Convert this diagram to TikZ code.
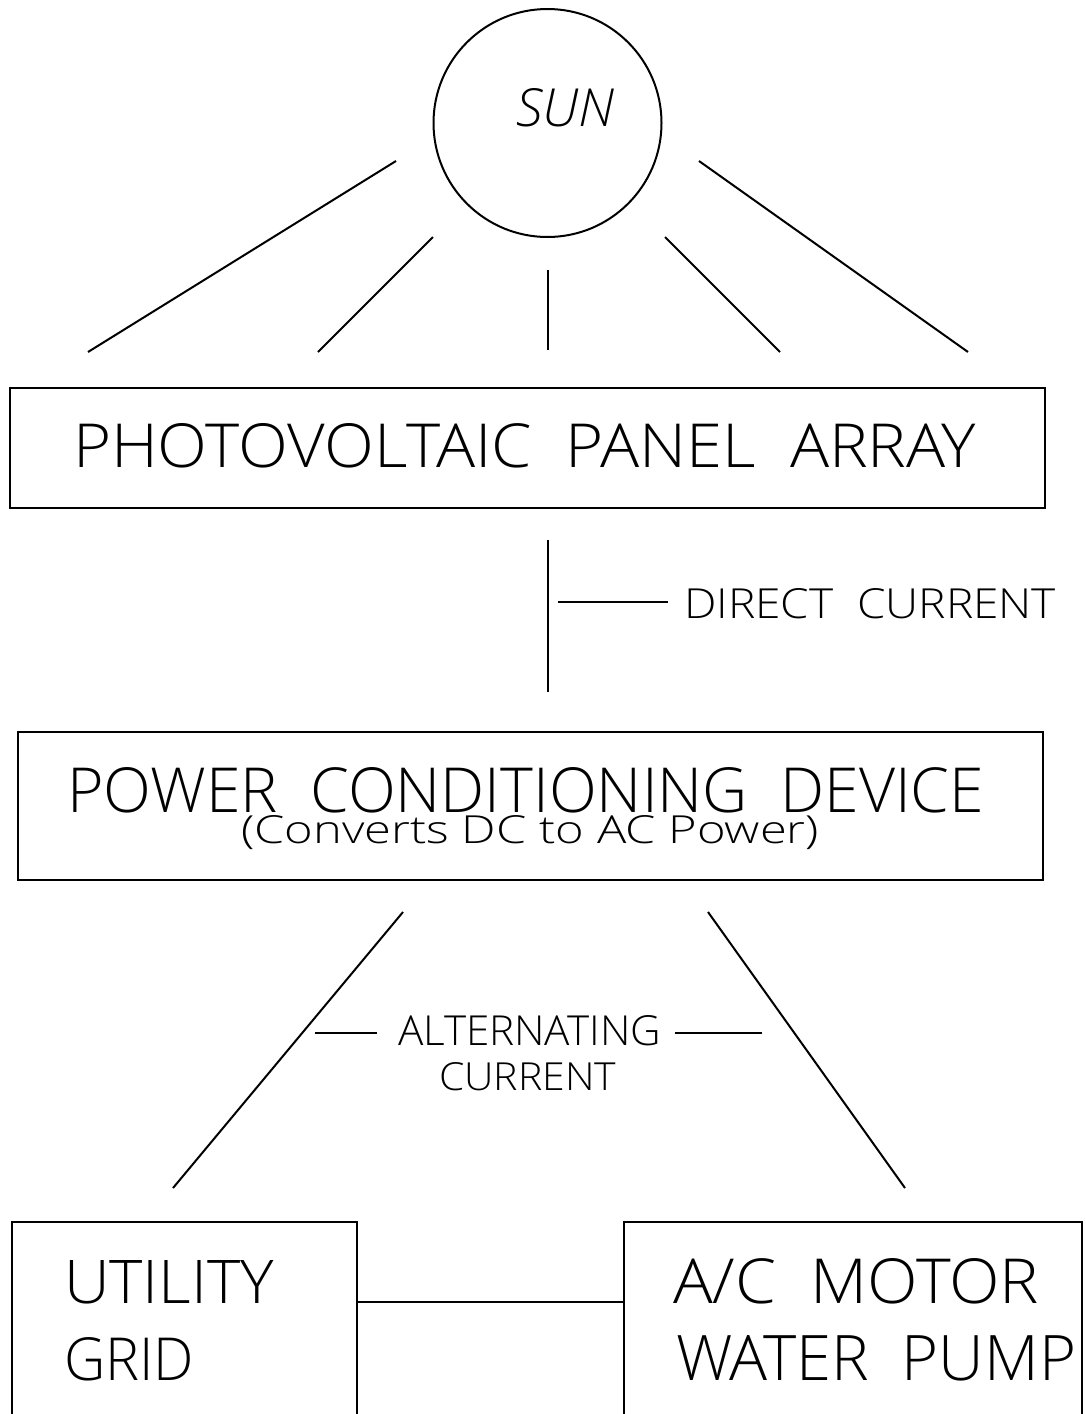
\documentclass[tikz,border=0pt]{standalone}
\usepackage{fontspec}
\IfFontExistsTF{Open Sans Light}
  {\newfontfamily\cad{Open Sans Light}[ItalicFont={Open Sans Light Italic}]}
  {\newfontfamily\cad{Liberation Sans}}
\newcommand\fitbox[3]{\resizebox{#1pt}{#2pt}{\cad #3}}
\begin{document}
\begin{tikzpicture}[x=1pt,y=-1pt,line width=2pt,
  box/.style={draw,line width=2pt,rectangle,inner sep=0pt},
  txt/.style={inner sep=0pt,anchor=base west},
  wire/.style={line width=2pt}]
\fill[white] (0,0) rectangle (1086,1414);
\useasboundingbox (0,0) rectangle (1086,1414);

% sun
\node[draw,circle,line width=2pt,minimum size=228pt,inner sep=0pt] (sun) at (547.5,123) {};
\node[txt] (sunlbl) at (515,126) {\fitbox{98}{38}{\itshape SUN}};

% boxes
\node[box,minimum width=1035pt,minimum height=120pt] (pv) at (527.5,448) {};
\node[box,minimum width=1025pt,minimum height=148pt] (pcd) at (530.5,806) {};
\node[box,minimum width=345pt,minimum height=218pt] (util) at (184.5,1331) {};
\node[box,minimum width=458pt,minimum height=218pt] (pump) at (853,1331) {};

% texts
\node[txt] (pvlbl) at (72,467) {\fitbox{903}{44}{PHOTOVOLTAIC\ \ PANEL\ \ ARRAY}};
\node[txt] (pcdlbl) at (66,812) {\fitbox{917}{45}{POWER\ \ CONDITIONING\ \ DEVICE}};
\node[txt] (pcdsub) at (240,843) {\fitbox{578}{28}{(Converts DC to AC Power)}};
\node[txt] (dclbl) at (683,618) {\fitbox{372}{30}{DIRECT\ \ CURRENT}};
\node[txt] (aclbl1) at (397,1045) {\fitbox{263}{30}{ALTERNATING}};
\node[txt] (aclbl2) at (438,1090) {\fitbox{177}{28}{CURRENT}};
\node[txt] (utl1) at (63,1303) {\fitbox{210}{43}{UTILITY}};
\node[txt] (utl2) at (63,1380) {\fitbox{130}{43}{GRID}};
\node[txt] (pml1) at (672,1303) {\fitbox{366}{45}{A/C\ \ MOTOR}};
\node[txt] (pml2) at (675,1380) {\fitbox{400}{45}{WATER\ \ PUMP}};

% sun rays
\coordinate (r1a) at (88,352);  \coordinate (r1b) at (396,161);
\coordinate (r2a) at (318,352); \coordinate (r2b) at (433,237);
\coordinate (r3a) at (548,350); \coordinate (r3b) at (548,270);
\coordinate (r4a) at (780,352); \coordinate (r4b) at (665,237);
\coordinate (r5a) at (968,352); \coordinate (r5b) at (699,161);
\foreach \i in {1,...,5} \draw[wire] (r\i a) -- (r\i b);

% direct current
\coordinate (dctop) at (548,540);
\coordinate (dcbot) at (548,692);
\draw[wire] (dctop) -- (dcbot);
\coordinate (dcdash) at (558,602);
\draw[wire] (dcdash) -- ([xshift=-15pt]dclbl.west |- dcdash);

% alternating current
\coordinate (acl1) at (403,912); \coordinate (acl2) at (173,1188);
\coordinate (acr1) at (708,912); \coordinate (acr2) at (905,1188);
\draw[wire] (acl1) -- (acl2);
\draw[wire] (acr1) -- (acr2);
\coordinate (acdl) at (315,1033);
\coordinate (acdr) at (762,1033);
\draw[wire] (acdl) -- (acdl -| 377,0);
\draw[wire] (acdr) -- (acdr -| 675,0);

% utility - pump
\draw[wire] ([yshift=29pt]util.east) -- ([yshift=29pt]pump.west);
\end{tikzpicture}
\end{document}
